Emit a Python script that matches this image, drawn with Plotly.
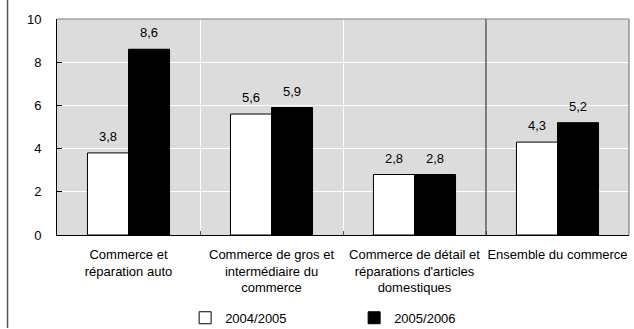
import plotly.graph_objects as go

categories = [
    "Commerce et<br>réparation auto",
    "Commerce de gros et<br>intermédiaire du<br>commerce",
    "Commerce de détail et<br>réparations d'articles<br>domestiques",
    "Ensemble du commerce",
]
series_names = ["2004/2005", "2005/2006"]
values_2004_2005 = [3.8, 5.6, 2.8, 4.3]
values_2005_2006 = [8.6, 5.9, 2.8, 5.2]
y_ticks = [0, 2, 4, 6, 8, 10]

FONT = "Liberation Sans, Arial, sans-serif"
positions = list(range(len(categories)))

fig = go.Figure()
fig.add_trace(go.Bar(
    x=positions, y=values_2004_2005, name=series_names[0],
    marker=dict(color="white", line=dict(color="black", width=1)),
))
fig.add_trace(go.Bar(
    x=positions, y=values_2005_2006, name=series_names[1],
    marker=dict(color="black", line=dict(color="black", width=1)),
))

# value labels above each bar
annotations = []
offsets = [-0.1435, 0.1435]
for vals, off in zip([values_2004_2005, values_2005_2006], offsets):
    for p, v in zip(positions, vals):
        annotations.append(dict(
            x=p + off, y=v, xref="x", yref="y",
            text=f"{v:.1f}".replace(".", ","), showarrow=False,
            yanchor="bottom", yshift=7, font=dict(size=13, color="black"),
        ))

shapes = [
    # dark separator before the overall total
    dict(type="line", xref="x", yref="paper", x0=2.5, x1=2.5, y0=0, y1=1,
         line=dict(color="#333333", width=1.2), layer="above"),
    # top and right frame of the plot area
    dict(type="line", xref="paper", yref="paper", x0=0, x1=1, y0=1, y1=1,
         line=dict(color="#808080", width=1.2), layer="above"),
    dict(type="line", xref="paper", yref="paper", x0=1, x1=1, y0=0, y1=1,
         line=dict(color="#808080", width=1.2), layer="above"),
    # left border of the figure
    dict(type="line", xref="paper", yref="paper", x0=-0.0865, x1=-0.0865,
         y0=1.09, y1=-0.43, line=dict(color="#555555", width=1.5), layer="above"),
]

fig.update_layout(
    width=634, height=329,
    margin=dict(l=57, r=5, t=19, b=94, autoexpand=False),
    paper_bgcolor="white", plot_bgcolor="#dcdcdc",
    font=dict(family=FONT, size=13, color="black"),
    barmode="group", bargap=0.426, bargroupgap=0,
    showlegend=True,
    legend=dict(
        orientation="h", x=0.224, xanchor="left",
        yref="container", y=0.034, yanchor="middle",
        font=dict(size=13), entrywidth=124, entrywidthmode="pixels",
        itemwidth=30, bgcolor="rgba(0,0,0,0)",
    ),
    annotations=annotations,
    shapes=shapes,
    xaxis=dict(
        range=[-0.5, 3.5], tickmode="array", tickvals=positions, ticktext=categories,
        showgrid=False, ticks="", showline=True, linecolor="black", linewidth=1,
        tickfont=dict(size=13), zeroline=False, automargin=False, ticklabelstandoff=7,
        minor=dict(tickvals=[0.5, 1.5, 2.5], ticks="inside", ticklen=4,
                   tickcolor="#555555", showgrid=True, gridcolor="white", gridwidth=1),
    ),
    yaxis=dict(
        range=[0, 10], tickvals=y_ticks, showgrid=True, gridcolor="white", gridwidth=1,
        ticks="inside", ticklen=5, tickcolor="black", showline=True, linecolor="black",
        linewidth=1, zeroline=False, tickfont=dict(size=13), ticklabelstandoff=12,
        automargin=False,
    ),
)

fig.write_html("out.html")
